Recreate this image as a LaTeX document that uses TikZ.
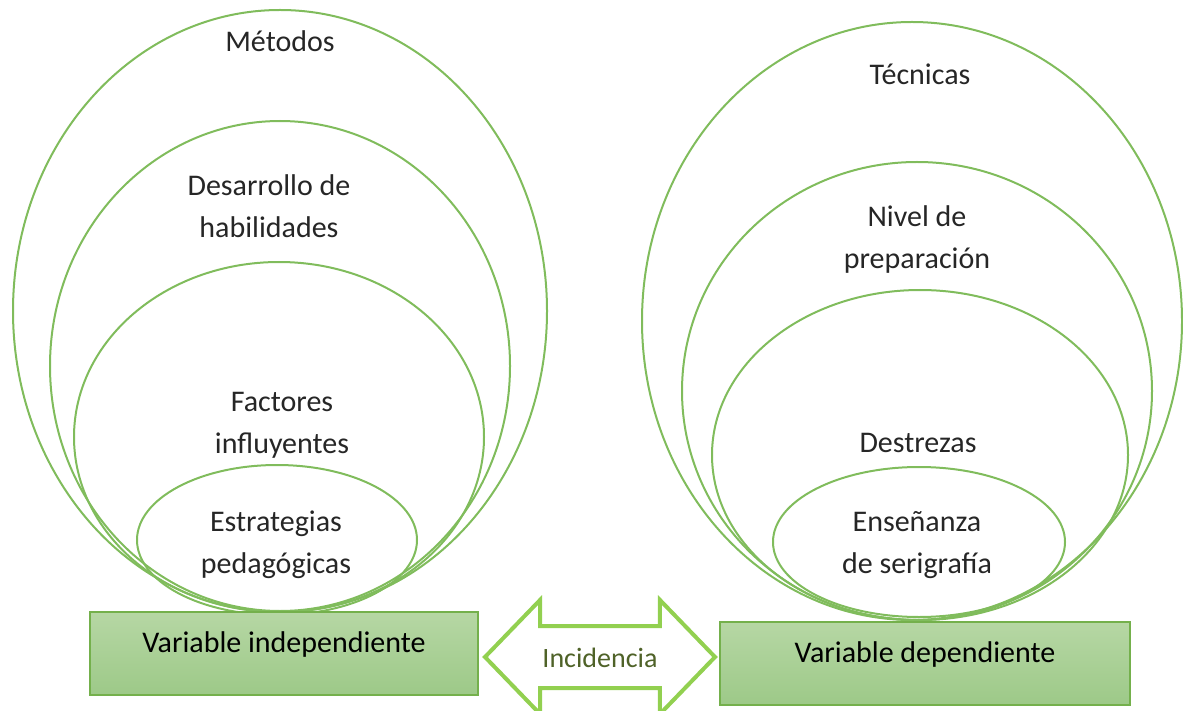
\documentclass[tikz,border=0pt]{standalone}
\usepackage{fontspec}
\setmainfont{Carlito}
\usepackage{xcolor}
\usetikzlibrary{shapes.geometric,shapes.arrows,positioning}
\definecolor{ringgreen}{RGB}{128,188,92}
\definecolor{arrowgreen}{RGB}{146,208,80}
\definecolor{boxedge}{RGB}{116,176,76}
\definecolor{boxtop}{RGB}{182,215,164}
\definecolor{boxbot}{RGB}{157,201,136}
\definecolor{txtgray}{RGB}{38,38,38}
\definecolor{olive}{RGB}{79,98,40}

\begin{document}
\begin{tikzpicture}[
    x=1pt, y=-1pt,
    ring/.style={ellipse, draw=ringgreen, line width=2pt, inner sep=0pt},
    lbl/.style={align=center, text=txtgray, font=\fontsize{30}{42}\selectfont, inner sep=0pt},
    varbox/.style={rectangle, draw=boxedge, line width=1.5pt, top color=boxtop, bottom color=boxbot,
        text=black, font=\fontsize{30}{36}\selectfont, inner xsep=0pt, inner ysep=0pt,
        text height=40pt, text depth=43pt},
    incid/.style={double arrow, draw=arrowgreen, line width=4pt, fill=white, text=olive,
        font=\fontsize{28}{34}\selectfont, minimum height=230pt, inner xsep=4pt, inner ysep=19pt,
        text height=20pt, text depth=0pt, double arrow head extend=26pt, double arrow tip angle=92}
]
\useasboundingbox (0,0) rectangle (1183,711);

% Independent variable
\node[ring, minimum width=534pt, minimum height=602pt] (metodos) at (280,311) {};
\node[ring, minimum width=460pt, minimum height=490pt] (desarrollo) at (280,366) {};
\node[ring, minimum width=410pt, minimum height=350pt] (factores) at (279,437) {};
\node[ring, minimum width=280pt, minimum height=150pt] (estrategias) at (277,540) {};

\node[lbl] (metodosT) at (280,41) {Métodos};
\node[lbl] (desarrolloT) at (269,206) {Desarrollo de\\habilidades};
\node[lbl] (factoresT) at (282,425) {Factores\\influyentes};
\node[lbl] (estrategiasT) at (276,545) {Estrategias\\pedagógicas};

% Dependent variable
\node[ring, minimum width=540pt, minimum height=598pt] (tecnicas) at (912,321) {};
\node[ring, minimum width=470pt, minimum height=458pt] (nivel) at (917,391) {};
\node[ring, minimum width=416pt, minimum height=330pt] (destrezas) at (920,455) {};
\node[ring, minimum width=292pt, minimum height=150pt] (ensenanza) at (919,542) {};

\node[lbl] (tecnicasT) at (920,74) {Técnicas};
\node[lbl] (nivelT) at (917,240) {Nivel de\\preparación};
\node[lbl] (destrezasT) at (918,443) {Destrezas};
\node[lbl] (ensenanzaT) at (917,545) {Enseñanza\\de serigrafía};

% Variables
\node[varbox, minimum width=388pt] (indep) at (284,653.5) {Variable independiente};
\node[varbox, minimum width=410pt] (dep) at (925,663.5) {Variable dependiente};

% Incidence
\node[incid] (incidencia) at (600,657) {Incidencia};

\end{tikzpicture}
\end{document}
